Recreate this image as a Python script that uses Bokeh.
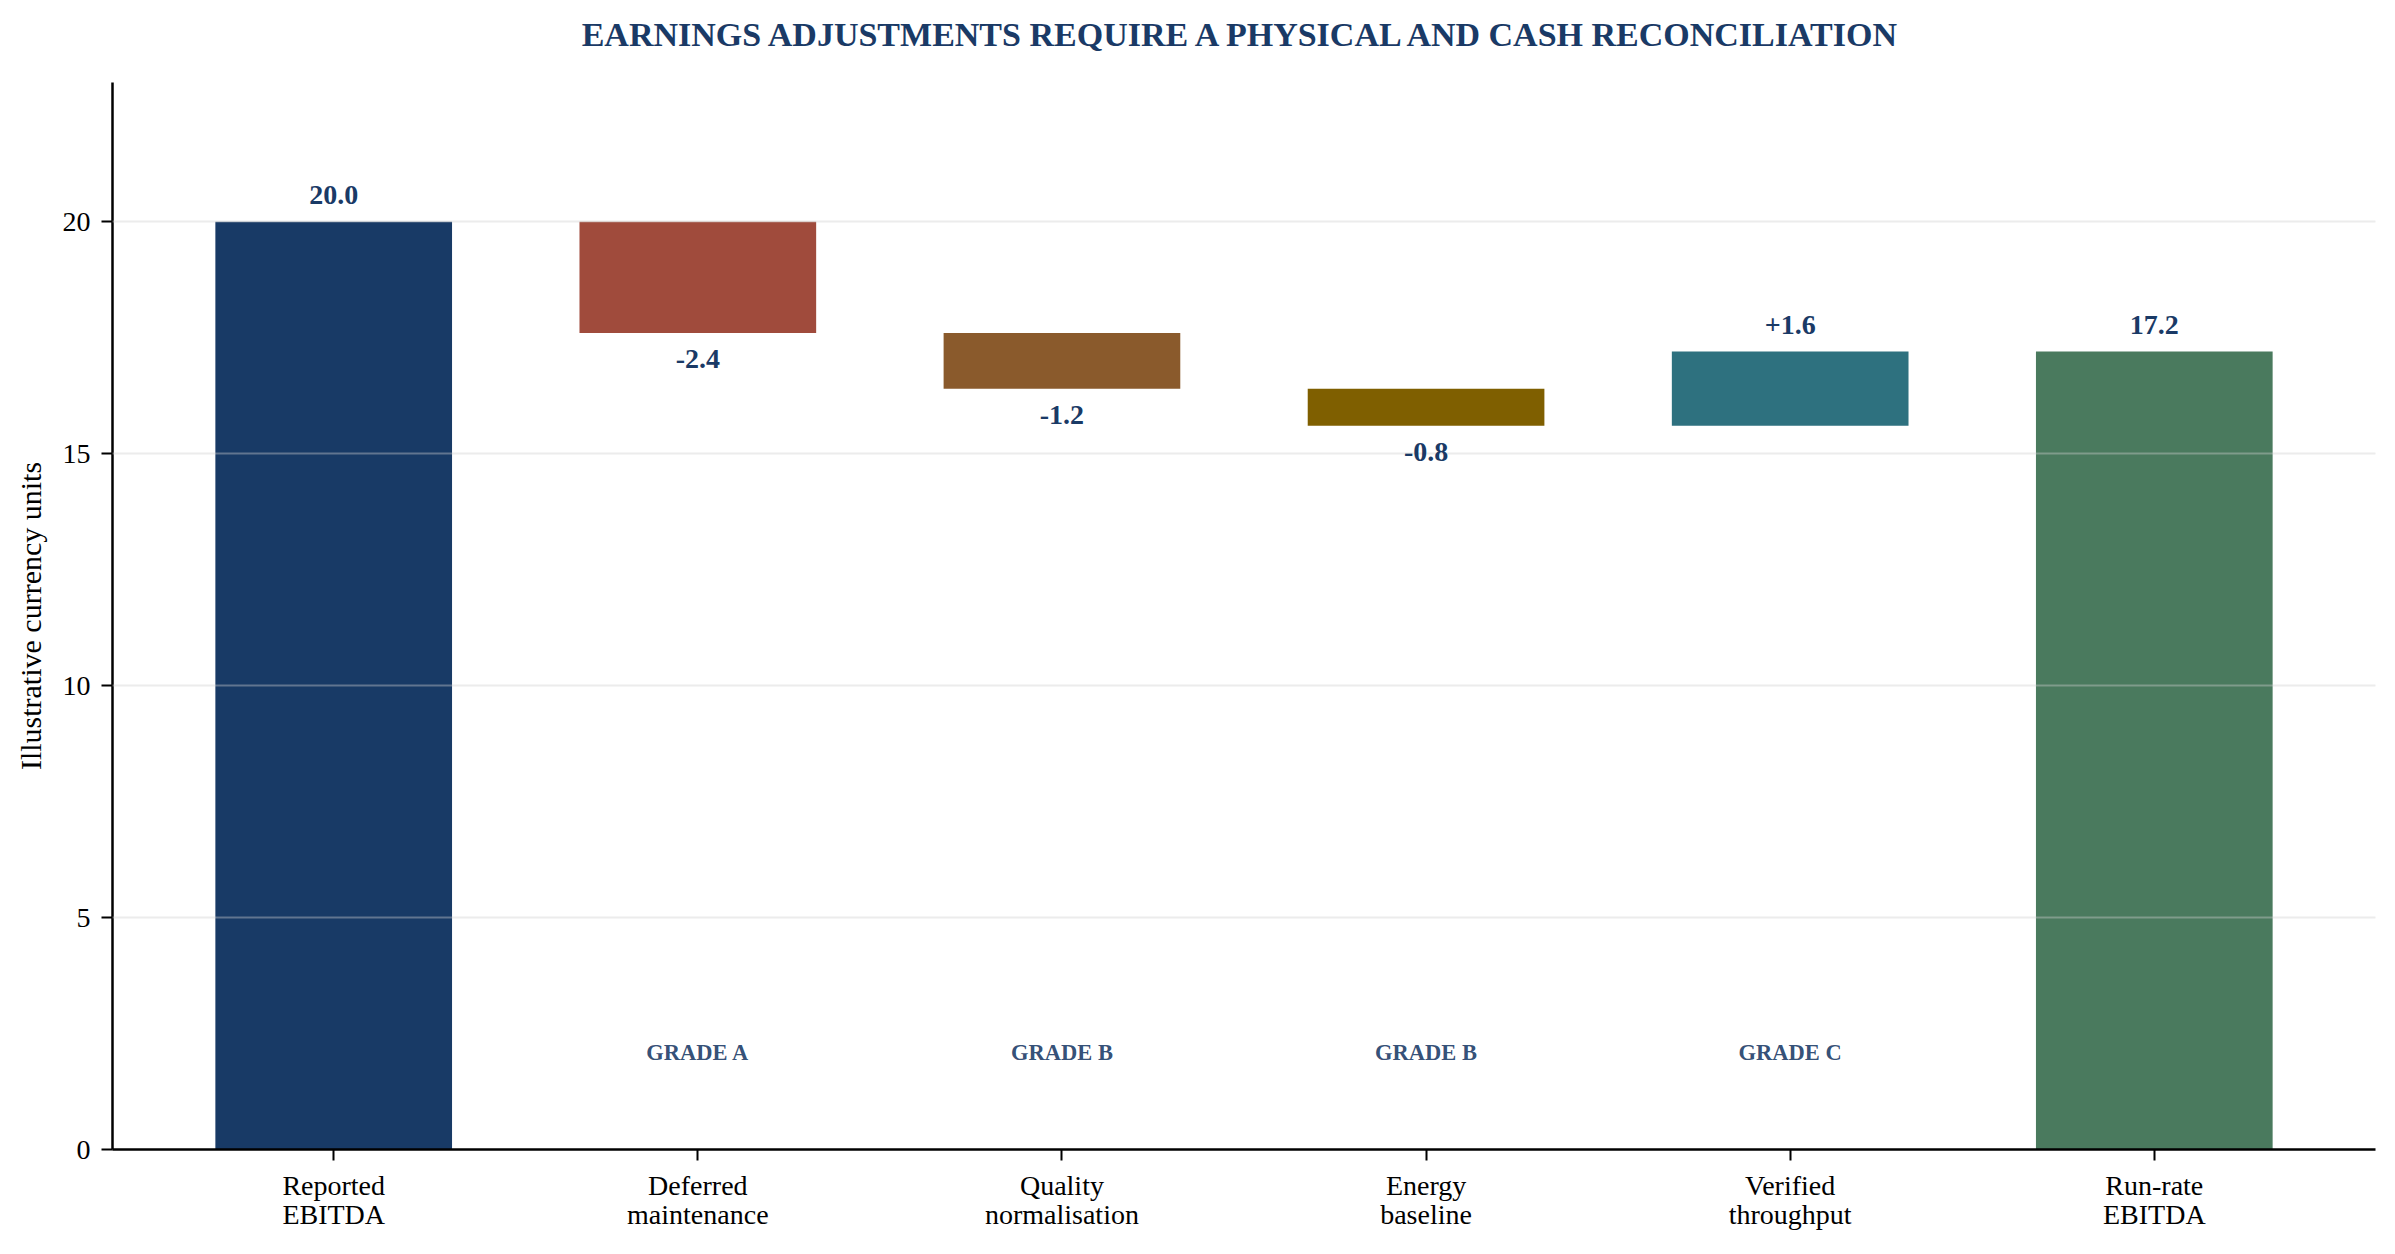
from bokeh.plotting import figure
from bokeh.models import Range1d, FixedTicker, ColumnDataSource, Title
from bokeh.core.properties import value
from bokeh.embed import file_html
from bokeh.resources import INLINE

# ---- data ----
categories = ["Reported\nEBITDA", "Deferred\nmaintenance", "Quality\nnormalisation",
              "Energy\nbaseline", "Verified\nthroughput", "Run-rate\nEBITDA"]
kinds = ["total", "delta", "delta", "delta", "delta", "total"]
values = [20.0, -2.4, -1.2, -0.8, 1.6, 17.2]
value_labels = ["20.0", "-2.4", "-1.2", "-0.8", "+1.6", "17.2"]
grades = ["", "GRADE A", "GRADE B", "GRADE B", "GRADE C", ""]
colors = ["#183a66", "#a04b3c", "#8a5a2c", "#7f5f00", "#2e717f", "#4a7a5e"]
y_ticks = [0, 5, 10, 15, 20]

NAVY = "#1a3a66"
FONT = "Liberation Serif"

# waterfall geometry from the values
xs = list(range(len(categories)))
bottoms, tops = [], []
running = 0.0
for k, v in zip(kinds, values):
    if k == "total":
        bottoms.append(0.0)
        tops.append(v)
        running = v
    else:
        b = running
        running = running + v
        bottoms.append(min(b, running))
        tops.append(max(b, running))

W, H = 2387, 1246
p = figure(width=W, height=H, output_backend="svg", toolbar_location=None,
           x_range=Range1d(-0.6075, 5.6075), y_range=Range1d(0, 23),
           min_border_left=112, min_border_right=12, min_border_top=0, min_border_bottom=97)
p.background_fill_color = "white"
p.border_fill_color = "white"
p.outline_line_color = None

p.title.text = "EARNINGS ADJUSTMENTS REQUIRE A PHYSICAL AND CASH RECONCILIATION"
p.title.align = "center"
p.title.text_font = FONT
p.title.text_font_size = "34px"
p.title.text_font_style = "bold"
p.title.text_color = NAVY
p.title.standoff = 27

# thin spacer between title and frame
spacer = Title(text=" ", text_font_size="2px", standoff=12, text_color="white")
p.add_layout(spacer, "above")

src = ColumnDataSource(dict(x=xs, bottom=bottoms, top=tops, color=colors))
p.vbar(x="x", bottom="bottom", top="top", width=0.65, fill_color="color",
       line_color=None, source=src)

# value labels
up_x, up_y, up_t, dn_x, dn_y, dn_t = [], [], [], [], [], []
for i, (k, v) in enumerate(zip(kinds, values)):
    if v >= 0:
        up_x.append(i); up_y.append(tops[i]); up_t.append(value_labels[i])
    else:
        dn_x.append(i); dn_y.append(bottoms[i]); dn_t.append(value_labels[i])
r1 = p.text(x=up_x, y=up_y, text=up_t, text_font=value(FONT), text_font_size="28px",
            text_font_style="bold", text_color=NAVY, text_align="center",
            text_baseline="alphabetic", y_offset=-27)
r2 = p.text(x=dn_x, y=dn_y, text=dn_t, text_font=value(FONT), text_font_size="28px",
            text_font_style="bold", text_color=NAVY, text_align="center",
            text_baseline="top", y_offset=17)
gx = [i for i, g in enumerate(grades) if g]
gt = [g for g in grades if g]
r3 = p.text(x=gx, y=[2.1] * len(gx), text=gt, text_font=value(FONT), text_font_size="22.5px",
            text_font_style="bold", text_color=NAVY, text_alpha=0.9, text_align="center",
            text_baseline="middle")
for r in (r1, r2, r3):
    r.level = "overlay"

# grid above bars, light
p.xgrid.visible = False
p.ygrid.ticker = FixedTicker(ticks=y_ticks)
p.ygrid.grid_line_color = "#d0d0d0"
p.ygrid.grid_line_alpha = 0.4
p.ygrid.grid_line_width = 2
p.ygrid.level = "guide"

# axes
for ax in (p.xaxis[0], p.yaxis[0]):
    ax.axis_line_color = "black"
    ax.axis_line_width = 2.5
    ax.major_tick_line_color = "black"
    ax.major_tick_line_width = 2
    ax.major_tick_out = 11
    ax.major_tick_in = 0
    ax.minor_tick_line_color = None
    ax.major_label_text_font = FONT
    ax.major_label_text_font_size = "28px"
    ax.major_label_text_color = "black"
    ax.major_label_text_line_height = 0.96
    ax.major_label_standoff = 9

p.xaxis.ticker = FixedTicker(ticks=xs)
p.xaxis.major_label_overrides = {i: c for i, c in enumerate(categories)}
p.yaxis.ticker = FixedTicker(ticks=y_ticks)
p.yaxis.major_label_standoff = 11
p.yaxis.axis_label = "Illustrative currency units"
p.yaxis.axis_label_text_font = FONT
p.yaxis.axis_label_text_font_size = "30px"
p.yaxis.axis_label_text_font_style = "normal"
p.yaxis.axis_label_text_color = "black"
p.yaxis.axis_label_standoff = 13

open("out.html", "w").write(file_html(p, INLINE))
